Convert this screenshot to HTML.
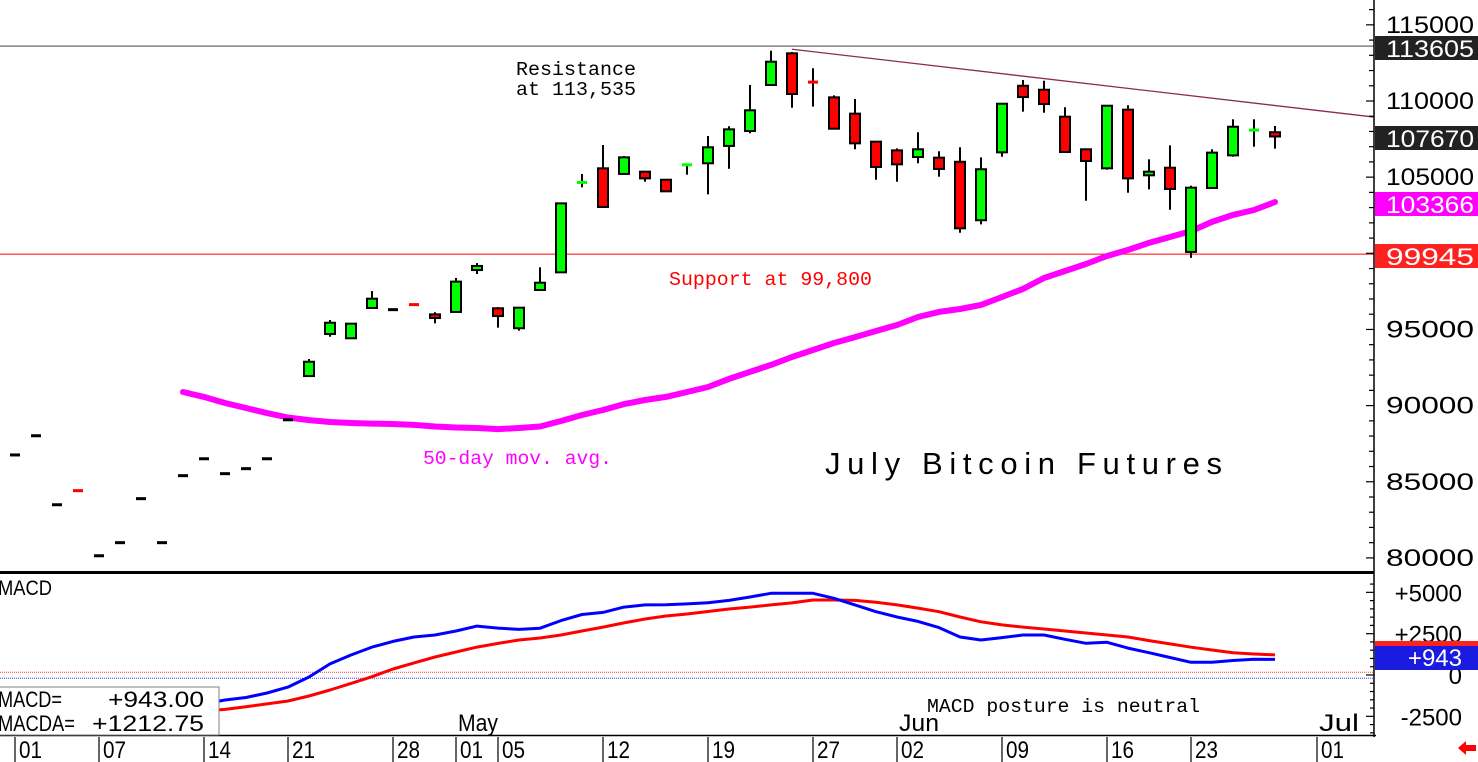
<!DOCTYPE html>
<html><head><meta charset="utf-8"><style>
html,body{margin:0;padding:0;background:#fff;}
svg{display:block;font-family:"Liberation Sans",sans-serif;}
.mono{font-family:"Liberation Mono",monospace;}
</style></head><body>
<svg id="chart" width="1478" height="762" viewBox="0 0 1478 762">
<rect x="0" y="0" width="1478" height="762" fill="#fff"/>
<g id="grid"></g>
<g id="ma"></g>
<g id="candles"></g>
<g id="macd"></g>
<g id="axes"></g>
<g id="labels"></g>
</svg>
<script>
// ---- data ----
const opens  = [86760,88020,83490,84420,80140,81000,83890,81000,85400,86510,85530,85860,86510,89070,91940,94700,94420,96410,96300,96640,95990,96150,98900,96390,95080,97590,98750,104640,105580,105210,105360,104830,105800,105910,107050,108030,111050,113130,111250,110240,109170,107330,106760,106320,106280,106010,102170,106630,111000,110740,108970,106830,105580,109430,105120,105620,100090,104290,106430,108080,107950];
const highs  = [86760,88020,83490,84420,80140,81000,83890,81000,85400,86510,85530,85860,86510,89070,93060,95620,95380,97520,96300,96700,96130,98380,99360,96470,96430,99080,103280,105210,107110,106390,105360,104830,105820,107700,108340,111050,113300,113220,112150,110370,110130,107330,106890,107950,106700,106960,106300,109820,111380,111330,109590,106830,109690,109720,106170,107090,104440,106830,108800,108800,108360];
const lows   = [86760,88020,83490,84410,80140,81000,83890,81000,85400,86510,85530,85860,86510,89070,91940,94520,94420,96410,96300,96600,95400,96150,98640,95120,94920,97590,98750,104330,103040,105210,104700,104070,105160,103870,105550,107880,111050,109560,109630,108180,106830,104830,104700,105910,105030,101350,101900,106340,109300,109230,106650,103450,105490,103980,104200,102860,99700,104290,106340,107000,106870];
const closes = [86760,88020,83490,84410,80140,81000,83890,81000,85400,86510,85530,85860,86510,89070,92880,95440,95380,97020,96300,96620,95750,98140,99170,95880,96430,98070,103280,104660,103040,106300,104920,104070,105820,106960,108140,109390,112580,110460,111230,108180,107220,105670,105840,106830,105540,101640,105520,109820,110260,109800,106650,106060,109690,104920,105360,104220,104310,106610,108310,108100,107670];
const maStart = 8;
const maValues = [90890,90570,90170,89840,89510,89220,89050,88920,88860,88820,88790,88730,88630,88560,88530,88460,88530,88630,88990,89380,89710,90100,90370,90570,90890,91220,91750,92210,92670,93190,93650,94110,94500,94900,95290,95820,96150,96340,96610,97130,97660,98380,98840,99300,99820,100220,100680,101070,101460,102060,102520,102840,103366];
const macdStart = 6;
const macdValues = [-2420,-2240,-2060,-1750,-1510,-1360,-1090,-730,-120,670,1210,1690,2030,2300,2420,2660,2960,2840,2760,2830,3290,3660,3790,4110,4240,4250,4300,4370,4510,4720,4940,4940,4940,4640,4240,3830,3510,3240,2870,2300,2120,2260,2420,2420,2160,1920,1980,1630,1350,1060,770,770,880,950,943];
const signalValues = [-2600,-2480,-2300,-2180,-2080,-1920,-1750,-1570,-1270,-910,-510,-100,360,730,1090,1390,1690,1910,2120,2240,2420,2660,2900,3150,3390,3570,3690,3840,3990,4110,4240,4360,4540,4540,4510,4400,4240,4050,3830,3510,3220,3030,2900,2780,2660,2540,2420,2300,2080,1880,1680,1510,1350,1270,1213];
const priceTicks = [115000,110000,105000,100000,95000,90000,85000,80000];
const priceTickLabels = ["115000","110000","105000","","95000","90000","85000","80000"];
const macdTicks = [5000,2500,0,-2500];
const macdTickLabels = ["+5000","+2500","0","-2500"];
const dateTickIdx = [0,4,9,13,18,21,23,28,33,38,42,47,52,56,62];
const dateTickLabels = ["01","07","14","21","28","01","05","12","19","27","02","09","16","23","01"];
const monthIdx = [21,42,62];
const monthLabels = ["May","Jun","Jul"];
const resistance = 113605, support = 99945;
const trendStart = [37,113400], trendEnd = [65.8,108770];

// ---- scales ----
const NS = "http://www.w3.org/2000/svg";
const xs = i => 15 + 21*i;
const ys = p => 101 + (110000 - p)*0.01523;
const ym = v => 675 - v*0.01653;
function mk(parent, tag, attrs){const e=document.createElementNS(NS,tag);for(const k in attrs)e.setAttribute(k,attrs[k]);parent.appendChild(e);return e;}
const G = id => document.getElementById(id);

// grid / reference lines
let e;
e = mk(G('grid'),'line',{x1:0,x2:1374,y1:ys(resistance),y2:ys(resistance),stroke:'#808080','stroke-width':1.5});


e = mk(G('grid'),'line',{x1:0,x2:1374,y1:ys(support),y2:ys(support),stroke:'#ff0000','stroke-width':1});


{
  const x1=xs(trendStart[0]),y1=ys(trendStart[1]),x2=xs(trendEnd[0]),y2=ys(trendEnd[1]);
  const slope=(y2-y1)/(x2-x1);
  e = mk(G('grid'),'line',{x1:x1,y1:y1,x2:1374,y2:y1+slope*(1374-x1),stroke:'#8b2a5a','stroke-width':1.3});
  
  
}

// moving average
{
  let d='';
  maValues.forEach((v,k)=>{d+=(k?'L':'M')+xs(maStart+k).toFixed(1)+' '+ys(v).toFixed(1);});
  e = mk(G('ma'),'path',{d:d,fill:'none',stroke:'#ff00ff','stroke-width':6,'stroke-linejoin':'round','stroke-linecap':'round'});
  
  
}

// candles
opens.forEach((o,i)=>{
  const c=closes[i],h=highs[i],l=lows[i],x=xs(i);
  const g=mk(G('candles'),'g',{});
  
  
  if(ys(l)-ys(h)>1){mk(g,'line',{x1:x,x2:x,y1:ys(h),y2:ys(l),stroke:'#000','stroke-width':2});}
  const top=ys(Math.max(o,c)),bot=ys(Math.min(o,c));
  if(bot-top<2.5){
    const col = c>o?'#00ff00':(c<o?'#ff0000':'#000');
    mk(g,'rect',{x:x-5,y:(top+bot)/2-1.5,width:10,height:3,fill:col});
  } else {
    mk(g,'rect',{x:x-5,y:top,width:10,height:bot-top,fill:c>o?'#00ff00':'#ff0000',stroke:'#000','stroke-width':2});
  }
});

// MACD panel
e = mk(G('macd'),'line',{x1:0,x2:1374,y1:672.3,y2:672.3,stroke:'#ff4040','stroke-width':1,'stroke-dasharray':'1 1'});


e = mk(G('macd'),'line',{x1:0,x2:1374,y1:678.3,y2:678.3,stroke:'#4040ff','stroke-width':1,'stroke-dasharray':'1 1'});


{
  let d='';signalValues.forEach((v,k)=>{d+=(k?'L':'M')+xs(macdStart+k).toFixed(1)+' '+ym(v).toFixed(1);});
  e = mk(G('macd'),'path',{d:d,fill:'none',stroke:'#ff0000','stroke-width':3,'stroke-linejoin':'round'});
  
  
  d='';macdValues.forEach((v,k)=>{d+=(k?'L':'M')+xs(macdStart+k).toFixed(1)+' '+ym(v).toFixed(1);});
  e = mk(G('macd'),'path',{d:d,fill:'none',stroke:'#0000ff','stroke-width':3,'stroke-linejoin':'round'});
  
  
}

// axes
const A=G('axes');
e = mk(A,'rect',{x:0,y:571,width:1374,height:3,fill:'#000'});


e = mk(A,'line',{x1:0,x2:1376,y1:735.5,y2:735.5,stroke:'#000','stroke-width':1.5});


e = mk(A,'line',{x1:1374,x2:1374,y1:0,y2:737,stroke:'#000','stroke-width':1.5});


for(let p=80000;p<=116000;p+=1000){
  const y=ys(p);if(y<0||y>570)continue;
  mk(A,'line',{x1:p%5000===0?1366:1369,x2:1374,y1:y,y2:y,stroke:'#000','stroke-width':1.2});
}
for(let v=-3500;v<=6000;v+=500){
  const y=ym(v);if(y<576||y>734)continue;
  mk(A,'line',{x1:v%2500===0?1366:1370,x2:1374,y1:y,y2:y,stroke:'#000','stroke-width':1.2});
}
priceTicks.forEach((p,k)=>{
  if(!priceTickLabels[k])return;
  e = mk(A,'text',{x:1474,y:ys(p)+8,'text-anchor':'end','font-size':24,textLength:88,lengthAdjust:'spacingAndGlyphs',fill:'#000'});
  e.textContent=priceTickLabels[k];
  
  
});
macdTicks.forEach((v,k)=>{
  e = mk(A,'text',{x:1462,y:ym(v)+9,'text-anchor':'end','font-size':24,fill:'#000'});
  e.textContent=macdTickLabels[k];
  
  
});
dateTickIdx.forEach((i,k)=>{
  const x=xs(i);
  mk(A,'line',{x1:x,x2:x,y1:737,y2:762,stroke:'#000','stroke-width':1.2});
  e = mk(A,'text',{x:x+4,y:758,'font-size':24,textLength:23,lengthAdjust:'spacingAndGlyphs',fill:'#000'});
  e.textContent=dateTickLabels[k];
  
  
});
monthIdx.forEach((i,k)=>{
  e = mk(A,'text',{x:xs(i)+2,y:731,'font-size':24,textLength:40,lengthAdjust:'spacingAndGlyphs',fill:'#000'});
  e.textContent=monthLabels[k];
  
  
});

// value boxes
function box(y,bg,txt,name,fg){
  const g=mk(G('labels'),'g',{});
  
  
  mk(g,'rect',{x:1375,y:y-12,width:103,height:24,fill:bg});
  const t=mk(g,'text',{x:1474,y:y+9,'text-anchor':'end','font-size':24,textLength:88,lengthAdjust:'spacingAndGlyphs',fill:fg||'#fff'});
  t.textContent=txt;
}
box(48,'#222','113605','resistance-value-box');
box(138,'#222','107670','last-price-box');
box(204,'#ff00ff','103366','ma-value-box');
box(256,'#ff2020','99945','support-value-box');
{
  const g=mk(G('labels'),'g',{});
  
  
  mk(g,'rect',{x:1375,y:641,width:103,height:6,fill:'#ff2020'});
  mk(g,'rect',{x:1375,y:646,width:103,height:24,fill:'#1a1ae0'});
  const t=mk(g,'text',{x:1462,y:666,'text-anchor':'end','font-size':24,fill:'#fff'});t.textContent='+943';
}
</script>
<svg style="position:absolute;left:0;top:0" width="1478" height="762">
<text class="mono" x="516" y="75" font-size="19" textLength="120" lengthAdjust="spacingAndGlyphs" fill="#000">Resistance</text>
<text class="mono" x="516" y="95" font-size="19" textLength="120" lengthAdjust="spacingAndGlyphs" fill="#000">at 113,535</text>
<text class="mono" x="669" y="285" font-size="19" textLength="203" lengthAdjust="spacingAndGlyphs" fill="#ff0000">Support at 99,800</text>
<text class="mono" x="423" y="464" font-size="19" textLength="189" lengthAdjust="spacingAndGlyphs" fill="#ff00ff">50-day mov. avg.</text>
<text x="825" y="474" font-size="31" textLength="397" lengthAdjust="spacing" fill="#000">July Bitcoin Futures</text>
<text x="-2" y="595" font-size="21" textLength="54" lengthAdjust="spacingAndGlyphs" fill="#000">MACD</text>
<text class="mono" x="927" y="712" font-size="19" textLength="273" lengthAdjust="spacingAndGlyphs" fill="#000">MACD posture is neutral</text>
<g>
<rect x="-1" y="687" width="220" height="48" fill="#fff" stroke="#808080" stroke-width="1"/>
<text x="-2" y="707" font-size="22" textLength="64" lengthAdjust="spacingAndGlyphs" fill="#000">MACD=</text>
<text x="204" y="707" font-size="22" text-anchor="end" textLength="96" lengthAdjust="spacingAndGlyphs" fill="#000">+943.00</text>
<text x="-2" y="731" font-size="22" textLength="77" lengthAdjust="spacingAndGlyphs" fill="#000">MACDA=</text>
<text x="204" y="731" font-size="22" text-anchor="end" textLength="112" lengthAdjust="spacingAndGlyphs" fill="#000">+1212.75</text>
</g>
<polygon points="1458,748 1466,741 1466,745 1476,745 1476,751 1466,751 1466,755" fill="#ff0000"/>
</svg>
</body></html>
